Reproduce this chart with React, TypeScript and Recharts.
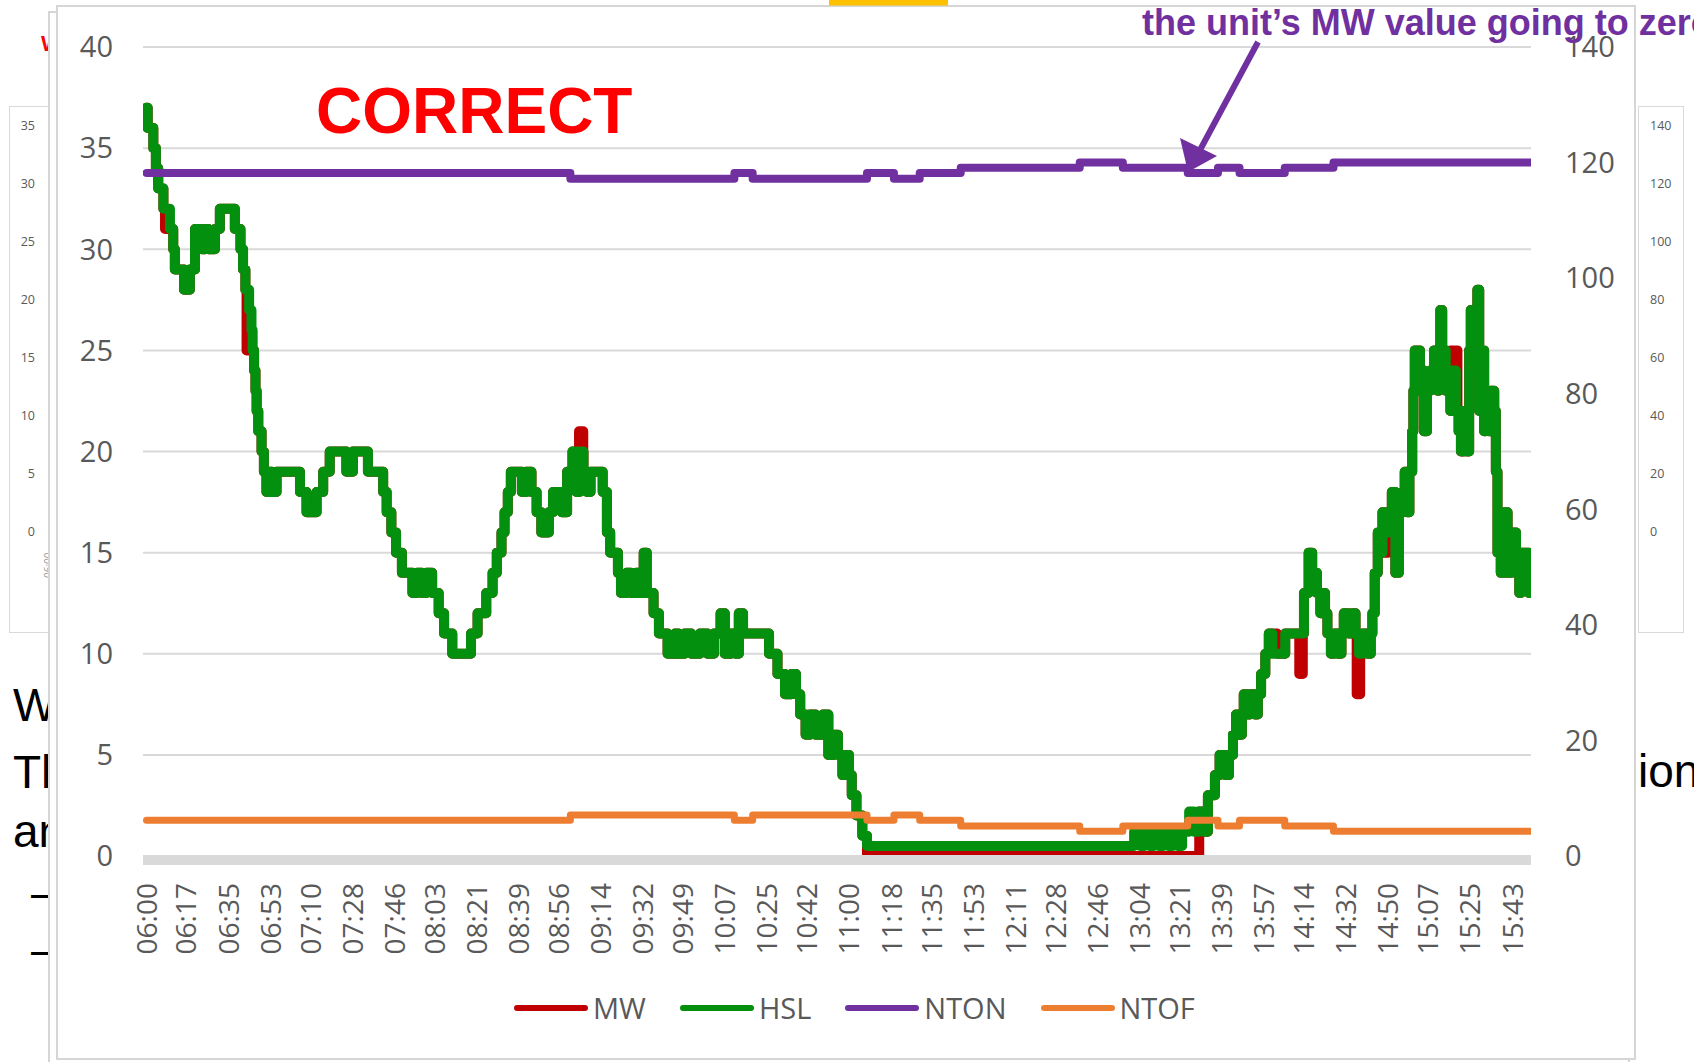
import React from "react";
import { LineChart, Line, XAxis, YAxis, CartesianGrid } from "recharts";

// ---------- data ----------
const timeLabels = [
  "06:00", "06:17", "06:35", "06:53", "07:10", "07:28", "07:46", "08:03", "08:21",
  "08:39", "08:56", "09:14", "09:32", "09:49", "10:07", "10:25", "10:42", "11:00",
  "11:18", "11:35", "11:53", "12:11", "12:28", "12:46", "13:04", "13:21", "13:39",
  "13:57", "14:14", "14:32", "14:50", "15:07", "15:25", "15:43",
];
const leftTicks = [0, 5, 10, 15, 20, 25, 30, 35, 40];
const rightTicks = [0, 20, 40, 60, 80, 100, 120, 140];

// HSL: [minutes after 06:00, value] step changes
const hslSteps: [number, number][] = [
  [0, 37], [0.5, 36], [2.9, 35], [4, 34], [5, 33], [7.2, 32], [10, 31], [11.4, 30], [12.1, 29],
  [16, 28], [18.5, 29], [20.7, 31], [23.6, 30], [25, 31], [26.4, 30], [29.2, 31], [31.3, 32],
  [37.7, 31], [40.1, 30], [41.2, 29], [42.2, 28], [43.8, 27], [44.8, 26], [45.3, 25], [45.9, 24],
  [46.5, 23], [47, 22], [47.7, 21], [49.1, 20], [50.1, 19], [51.2, 18], [52.5, 19], [53.5, 18],
  [55.5, 19], [65.5, 18], [68.3, 17], [72.6, 18], [75.4, 19], [78.2, 20], [85.3, 19], [88.1, 20],
  [94.5, 19], [101, 18], [102.5, 17], [104.5, 16], [106.5, 15], [109, 14], [113.5, 13], [115.5, 14],
  [117.5, 13], [119.5, 14], [121.9, 13], [124.7, 12], [127, 11], [130.5, 10], [138.5, 11], [141.3, 12],
  [145, 13], [147.7, 14], [149.5, 15], [151.5, 16], [152.8, 17], [154.2, 18], [155.5, 19], [160.2, 18],
  [162, 19], [164.3, 18], [166.5, 17], [168.5, 16], [171.7, 17], [173.5, 18], [177.2, 17], [179.5, 19],
  [181.8, 20], [183.5, 18], [185, 20], [186.5, 19], [188, 18], [189.5, 19], [194.7, 18], [196.5, 16],
  [197.9, 15], [201.2, 14], [202.5, 13], [204.9, 14], [206.7, 13], [209, 14], [210.5, 13], [212.2, 15],
  [213.5, 13], [216.4, 12], [218.7, 11], [222.4, 10], [225.6, 11], [227, 10], [229.7, 11], [232.5, 10],
  [236.2, 11], [239.4, 10], [242.2, 11], [245, 12], [246.8, 10], [249.5, 11], [251.4, 10], [252.8, 12],
  [254.6, 11], [265.7, 10], [269.3, 9], [272.5, 8], [275.3, 9], [277.2, 8], [279, 7], [281.3, 6],
  [283.2, 7], [285.5, 6], [288.7, 7], [291, 5], [293.3, 6], [295.1, 5], [297, 4], [298.8, 5],
  [299.8, 4], [301, 3], [303, 2], [305.5, 1], [307.5, 0.5], [421.5, 1.2], [424, 0.5], [426, 1.2],
  [428, 0.5], [430, 1.2], [432, 0.5], [434, 1.2], [436, 0.5], [438, 1.2], [440, 0.5], [442, 1.2],
  [445, 2.2], [447, 1.2], [449, 2.2], [451, 1.2], [453, 3], [456, 4], [458, 5], [460.5, 4],
  [462, 5], [463.7, 6], [465, 7], [466.5, 6], [467.5, 7], [468.3, 8], [469.7, 7], [471, 8],
  [473, 7], [474.3, 8], [475.7, 9], [477.5, 10], [479, 11], [480.5, 10], [486, 11], [494, 13],
  [496, 15], [497.5, 14], [499.5, 13], [501, 12], [502, 13], [503, 12], [504, 11], [505.5, 10],
  [507, 11], [508.5, 10], [510, 11], [511, 12], [513, 11], [514.5, 12], [516, 11], [517.5, 10],
  [519, 11], [521, 10], [522.5, 11], [523.2, 12], [524.2, 14], [525.5, 16], [527, 15], [527.5, 17],
  [529, 16], [530, 17], [531.5, 18], [533, 14], [534.5, 17], [536, 18], [537, 19], [538, 17],
  [539, 19], [540.2, 21], [540.7, 23], [541.3, 25], [543.5, 23], [544.5, 24], [545.2, 21], [546.5, 23],
  [548, 24], [549.5, 25], [551, 23], [551.6, 25], [552.2, 27], [553, 25], [554.5, 23], [555.2, 24],
  [556.5, 22], [557.3, 24], [558.8, 22], [560, 21], [561, 20], [562, 22], [563.8, 20], [564.5, 25],
  [565.2, 27], [566.2, 24], [567, 25], [568, 28], [568.8, 22], [569.5, 25], [570.9, 21], [571.6, 23],
  [573, 21], [573.7, 23], [575.2, 22], [575.9, 19], [576.6, 15], [578, 14], [579.5, 17], [580.9, 14],
  [582.3, 16], [584.5, 14], [585.9, 13], [586.6, 15], [590, 13], [590.9, 13],
];

// MW follows HSL except in these intervals: [from, to, MW value]
const mwOverrides: [number, number, number][] = [
  [7.9, 10, 31], [42.7, 45.3, 25], [184.6, 186.4, 21], [307.5, 449.3, 0], [480.5, 482.5, 11],
  [492, 493.5, 9], [516.5, 518, 8], [529, 530, 15], [556.6, 559.5, 25], [563, 564.5, 20],
];

const ntonSteps: [number, number][] = [
  [0, 118.2], [180.9, 117.2], [250.9, 118.2], [258.7, 117.2], [307.5, 118.2], [319, 117.2],
  [330, 118.2], [347.5, 119.1], [398.3, 120], [416.7, 119.1], [444.4, 118.2], [457.3, 119.1],
  [466.5, 118.2], [485.8, 119.1], [506.6, 120], [590.9, 120],
];
const ntofSteps: [number, number][] = [
  [0, 6.2], [180.9, 7.1], [250.9, 6.2], [258.7, 7.1], [307.5, 6.2], [319, 7.1],
  [330, 6.2], [347.5, 5.2], [398.3, 4.3], [416.7, 5.2], [444.4, 6.2], [457.3, 5.2],
  [466.5, 6.2], [485.8, 5.2], [506.6, 4.3], [590.9, 4.3],
];

const seriesNames = ["MW", "HSL", "NTON", "NTOF"];
const seriesColors = ["#C00000", "#03900F", "#7030A0", "#ED7D31"];

const backLeftLabels = ["35", "30", "25", "20", "15", "10", "5", "0"];
const backRightLabels = ["140", "120", "100", "80", "60", "40", "20", "0"];

// ---------- helpers ----------
const toMinutes = (s: string) => {
  const [h, m] = s.split(":").map(Number);
  return (h - 6) * 60 + m;
};
const tickValues = timeLabels.map(toMinutes);
const labelByMinute: Record<number, string> = {};
timeLabels.forEach((l) => (labelByMinute[toMinutes(l)] = l));

const toData = (steps: [number, number][]) => steps.map(([t, v]) => ({ t, v }));
const valueAt = (steps: [number, number][], t: number) => {
  let v = steps[0][1];
  for (const [st, sv] of steps) {
    if (st <= t) v = sv;
    else break;
  }
  return v;
};
const buildMW = () => {
  const times = Array.from(
    new Set([...hslSteps.map((s) => s[0]), ...mwOverrides.flatMap((o) => [o[0], o[1]])])
  ).sort((a, b) => a - b);
  return times.map((t) => {
    const ov = mwOverrides.find((o) => t >= o[0] && t < o[1]);
    return { t, v: ov ? ov[2] : valueAt(hslSteps, t) };
  });
};

const hslData = toData(hslSteps);
const mwData = buildMW();
const ntonData = toData(ntonSteps);
const ntofData = toData(ntofSteps);
const seriesData = [mwData, hslData, ntonData, ntofData];
const seriesAxis = ["l", "l", "r", "r"];
const seriesWidth = [10, 10, 8, 7];

const AXIS_FONT = '"Open Sans", "Noto Sans", sans-serif';
const SLIDE_FONT = '"Liberation Sans", Arial, sans-serif';

const XTick = (props: any) => {
  const { x, y, payload } = props;
  const yy = y + 25;
  return (
    <text
      x={x}
      y={yy}
      transform={`rotate(-90 ${x} ${yy})`}
      textAnchor="end"
      dy="0.36em"
      fill="#595959"
      fontSize={28}
      fontFamily={AXIS_FONT}
    >
      {labelByMinute[payload.value] ?? ""}
    </text>
  );
};

export default function App() {
  return (
    <div
      style={{
        position: "absolute",
        left: 0,
        top: 0,
        width: 1694,
        height: 1062,
        overflow: "hidden",
        background: "#fff",
      }}
    >
      {/* slide layer behind the chart */}
      <svg width={1694} height={1062} style={{ position: "absolute", left: 0, top: 0 }}>
        <text x={13} y={721} fontSize={46} fontFamily={SLIDE_FONT} fill="#000">When</text>
        <text x={13} y={788} fontSize={46} fontFamily={SLIDE_FONT} fill="#000">The</text>
        <text x={13} y={847} fontSize={46} fontFamily={SLIDE_FONT} fill="#000">and</text>
        <text x={31} y={908} fontSize={46} fontFamily={SLIDE_FONT} fill="#000">–</text>
        <text x={31} y={965} fontSize={46} fontFamily={SLIDE_FONT} fill="#000">–</text>
        <text x={1638} y={787} fontSize={46} fontFamily={SLIDE_FONT} fill="#000">ion</text>
        <text x={41} y={51} fontSize={22} fontWeight="bold" fontFamily={SLIDE_FONT} fill="#FF0000">W</text>
        {/* small background charts */}
        <rect x={9.5} y={106.5} width={60} height={526} fill="#fff" stroke="#D9D9D9" strokeWidth={1} />
        <rect x={1638.5} y={106.5} width={45} height={526} fill="#fff" stroke="#D9D9D9" strokeWidth={1} />
        {backLeftLabels.map((l, i) => (
          <text key={"bl" + i} x={35} y={126 + i * 57.9} dy="0.35em" textAnchor="end" fontSize={12.5} fill="#595959" fontFamily={AXIS_FONT}>{l}</text>
        ))}
        {backRightLabels.map((l, i) => (
          <text key={"br" + i} x={1650} y={126 + i * 57.9} dy="0.35em" textAnchor="start" fontSize={12.5} fill="#595959" fontFamily={AXIS_FONT}>{l}</text>
        ))}
        <text x={52} y={578} transform="rotate(-90 52 578)" fontSize={10} fill="#9a9a9a" fontFamily={AXIS_FONT}>06:00</text>
      </svg>

      {/* frames */}
      <div style={{ position: "absolute", left: 48, top: 10.5, width: 1582, height: 1100, border: "2.5px solid #D6D6D6", background: "#fff", boxSizing: "border-box" }} />
      <div style={{ position: "absolute", left: 56, top: 4.5, width: 1580, height: 1055, border: "2.5px solid #D6D6D6", background: "#fff", boxSizing: "border-box" }} />

      {/* chart */}
      <div style={{ position: "absolute", left: 0, top: 0 }}>
        <LineChart width={1694} height={1062} margin={{ top: 47, right: 0, bottom: 0, left: 0 }}>
          <CartesianGrid yAxisId="l" vertical={false} horizontalValues={leftTicks.slice(1)} stroke="#D9D9D9" strokeWidth={2} />
          <XAxis
            dataKey="t"
            type="number"
            domain={[-1.5, 590.9]}
            allowDataOverflow
            ticks={tickValues}
            interval={0}
            height={206}
            tickSize={0}
            tickLine={false}
            axisLine={{ stroke: "#D9D9D9", strokeWidth: 10, transform: "translate(0,4)" }}
            tick={<XTick />}
          />
          <YAxis
            yAxisId="l"
            orientation="left"
            width={143}
            domain={[0, 40]}
            ticks={leftTicks}
            interval={0}
            axisLine={false}
            tickLine={false}
            tickSize={0}
            tickMargin={30}
            tick={{ fill: "#595959", fontSize: 29, fontFamily: AXIS_FONT }}
          />
          <YAxis
            yAxisId="r"
            orientation="right"
            width={163}
            domain={[0, 140]}
            ticks={rightTicks}
            interval={0}
            axisLine={false}
            tickLine={false}
            tickSize={0}
            tickMargin={34}
            tick={{ fill: "#595959", fontSize: 29, fontFamily: AXIS_FONT, textAnchor: "start" }}
          />
          {seriesNames.map((name, i) => (
            <Line
              key={name}
              name={name}
              yAxisId={seriesAxis[i]}
              data={seriesData[i]}
              dataKey="v"
              type="stepAfter"
              stroke={seriesColors[i]}
              strokeWidth={seriesWidth[i]}
              strokeLinejoin="round"
              strokeLinecap="round"
              dot={false}
              activeDot={false}
              isAnimationActive={false}
            />
          ))}
        </LineChart>
      </div>

      {/* legend */}
      <div style={{ position: "absolute", left: 514, top: 990, height: 36, display: "flex", alignItems: "center" }}>
        {seriesNames.map((name, i) => (
          <div key={name} style={{ display: "flex", alignItems: "center", marginRight: 34 }}>
            <div style={{ width: 74, height: 6, borderRadius: 3, background: seriesColors[i] }} />
            <span style={{ marginLeft: 5, fontSize: 29, lineHeight: "36px", color: "#595959", fontFamily: AXIS_FONT }}>{name}</span>
          </div>
        ))}
      </div>

      {/* overlay annotations */}
      <svg width={1694} height={1062} style={{ position: "absolute", left: 0, top: 0, pointerEvents: "none" }}>
        <rect x={829} y={0} width={119} height={5.5} fill="#FFC000" />
        <text x={316} y={133} fontSize={64} fontWeight="bold" fontFamily={SLIDE_FONT} fill="#FF0000">CORRECT</text>
        <text x={1142} y={35} fontSize={36} fontWeight="bold" fontFamily={SLIDE_FONT} fill="#7030A0">the unit’s MW value going to zero</text>
        <line x1={1258} y1={42} x2={1200} y2={150} stroke="#7030A0" strokeWidth={6} />
        <polygon points="1188,172 1180,138 1217,156" fill="#7030A0" />
      </svg>
    </div>
  );
}
